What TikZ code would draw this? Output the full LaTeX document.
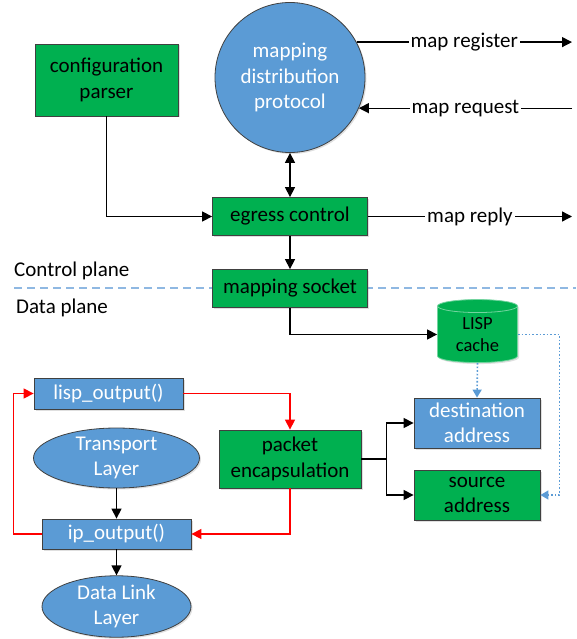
\documentclass[tikz,border=0pt]{standalone}
\usepackage{fontspec}
\setmainfont{Carlito}
\usepackage{tikz}
\usetikzlibrary{positioning}
\usetikzlibrary{shapes.geometric}
\usetikzlibrary{arrows.meta}
\usetikzlibrary{shadows}
\definecolor{boxgreen}{HTML}{00B050}
\definecolor{boxblue}{HTML}{5B9BD5}
\definecolor{planeline}{HTML}{8FB8E2}
\definecolor{loopred}{HTML}{FF0000}

\begin{document}
\begin{tikzpicture}[x=1pt,y=-1pt,
		font=\fontsize{21}{25.5}\selectfont,
		shade/.style={drop shadow={opacity=0.25,shadow xshift=1.5pt,shadow yshift=-1.5pt}},
		greenbox/.style={rectangle, draw=black!75, line width=0.8pt, fill=boxgreen, text=black, align=center, inner sep=0pt, shade},
		bluebox/.style={rectangle, draw=black!75, line width=0.8pt, fill=boxblue, text=white, align=center, inner sep=0pt, shade},
		blueoval/.style={ellipse, draw=black!75, line width=0.8pt, fill=boxblue, text=white, align=center, inner sep=0pt, shade},
		conn/.style={line width=1.3pt, -{Triangle[length=10pt,width=10pt]}},
		redconn/.style={line width=1.3pt, draw=loopred, -{Triangle[length=10pt,width=10pt]}, loopred},
		dotconn/.style={line width=1.6pt, draw=boxblue, dotted, -{Triangle[length=8pt,width=9pt]}, boxblue},
		lbl/.style={fill=white, inner sep=2pt}]
	\useasboundingbox (0,0) rectangle (576,639);
	\coordinate (edge) at (572,0);
	\coordinate (dotx) at (559.5,0);
	\coordinate (planeW) at (14,288);
	\coordinate (planeE) at (576,288);
	\draw[planeline, line width=1.3pt, dash pattern=on 8pt off 5pt] (planeW) -- (planeE);
	\node[anchor=west, inner sep=0pt] (cplane) at (14,271) {Control plane};
	\node[anchor=west, inner sep=0pt] (dplane) at (16,308) {Data plane};
	
	\node[greenbox, minimum width=143, minimum height=72] (config) at (106.5,80) {configuration\\parser};
	\node[circle, draw=black!75, line width=0.8pt, fill=boxblue, text=white, align=center, minimum size=150, inner sep=0pt, shade] (mdp) at (290,77.5) {mapping\\distribution\\protocol};
	\node[greenbox, minimum width=155, minimum height=38] (egress) at (290,216.5) {egress control};
	\node[greenbox, minimum width=155, minimum height=38] (socket) at (290,288.5) {mapping socket};
	\node[cylinder, shape border rotate=90, aspect=0.3, draw=boxgreen!55!white, line width=0.8pt, fill=boxgreen, align=center, inner sep=0pt, minimum width=80, minimum height=63, font=\fontsize{18.5}{22}\selectfont, shade] (cache) at (477.5,334.5) {LISP\\cache};
	\node[bluebox, minimum width=126, minimum height=50] (dest) at (477,423) {destination\\address};
	\node[greenbox, minimum width=126, minimum height=50] (source) at (477,495) {source\\address};
	\node[greenbox, minimum width=142, minimum height=58] (packet) at (290,459) {packet\\encapsulation};
	\node[bluebox, minimum width=149, minimum height=31] (lisp) at (108.5,393.5) {lisp\_output()};
	\node[blueoval, minimum width=166, minimum height=60] (transport) at (116.5,458) {Transport\\Layer};
	\node[bluebox, minimum width=149, minimum height=30] (ipout) at (116.5,534) {ip\_output()};
	\node[blueoval, minimum width=149, minimum height=59] (datalink) at (116.5,606.5) {Data Link\\Layer};
	
	\draw[conn, {Triangle[length=10pt,width=10pt]}-{Triangle[length=10pt,width=10pt]}] (mdp) -- (egress);
	\draw[conn] (mdp.28) -- node[lbl] {map register} (mdp.28 -| edge);
	\draw[conn] (mdp.-24 -| edge) -- node[lbl] {map request} (mdp.-24);
	\draw[conn] (egress.east) -- node[lbl] {map reply} (egress.east -| edge);
	\draw[conn] (config.south) |- (egress.west);
	\draw[conn] (egress) -- (socket);
	\draw[conn] (socket.south) |- (cache.west);
	\draw[dotconn] (cache.south) -- (dest.north);
	\draw[dotconn] (cache.east) -- (cache.east -| dotx) |- (source.east);
	\draw[conn] (packet.east) -- ++(25,0) coordinate (split) |- (dest.west);
	\draw[conn] (split) |- (source.west);
	\draw[redconn] (lisp.east) -| (packet.north);
	\draw[redconn] (packet.south) |- (ipout.east);
	\draw[redconn] (ipout.west) -- ++(-28,0) |- (lisp.west);
	\draw[conn] (transport) -- (ipout);
	\draw[conn] (ipout) -- (datalink);
\end{tikzpicture}
\end{document}
